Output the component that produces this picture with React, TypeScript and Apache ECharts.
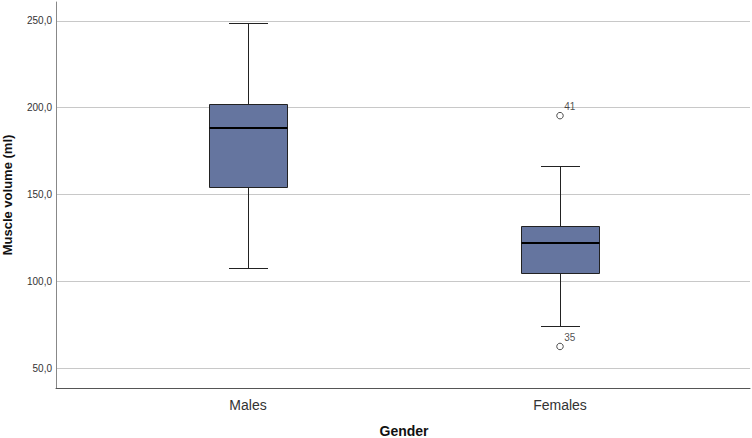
import React, { useEffect, useRef } from "react";
import * as echarts from "echarts";

const categories = ["Males", "Females"];
const whiskerLow = [107.6, 74.1];
const quartile1 = [154.4, 104.9];
const medians = [188.3, 122.0];
const quartile3 = [201.9, 132.2];
const whiskerHigh = [248.5, 166.3];

const outlierCategories = ["Females", "Females"];
const outlierValues = [195.4, 62.6];
const outlierIds = ["41", "35"];

const yTicks = [50, 100, 150, 200, 250];
const yMin = 38.7;
const yMax = 260.8;

const FONT = "'Liberation Sans', Arial, sans-serif";

export default function App() {
  const ref = useRef<HTMLDivElement>(null);

  useEffect(() => {
    if (!ref.current) return;
    const chart = echarts.init(ref.current, null, { renderer: "svg" });

    const boxData = categories.map((c, i) => [
      i,
      whiskerLow[i],
      quartile1[i],
      medians[i],
      quartile3[i],
      whiskerHigh[i],
    ]);

    const outlierData = outlierCategories.map((c, i) => ({
      value: [c, outlierValues[i]],
      name: outlierIds[i],
    }));

    const option: any = {
      animation: false,
      backgroundColor: "#ffffff",
      textStyle: { fontFamily: FONT },
      grid: [
        { left: 56, right: 2, top: 2, bottom: 50, containLabel: false, outerBoundsMode: "none" },
        { left: 92, right: 36, top: 2, bottom: 50, containLabel: false, outerBoundsMode: "none" },
      ],
      xAxis: [
        {
          type: "category",
          gridIndex: 0,
          data: [""],
          axisLine: { show: true, lineStyle: { color: "#555555", width: 1 } },
          axisTick: { show: false },
          axisLabel: { show: false },
          splitLine: { show: false },
        },
        {
          type: "category",
          gridIndex: 1,
          data: categories,
          axisLine: { show: false },
          axisTick: { show: false },
          axisLabel: {
            show: true,
            fontSize: 14,
            color: "#333333",
            margin: 10,
            fontFamily: FONT,
          },
          name: "Gender",
          nameLocation: "middle",
          nameGap: 36,
          nameTextStyle: {
            fontSize: 14,
            fontWeight: "bold",
            color: "#111111",
            fontFamily: FONT,
          },
        },
      ],
      yAxis: [
        {
          type: "value",
          gridIndex: 0,
          min: yMin,
          max: yMax,
          axisLine: { show: true, lineStyle: { color: "#888888", width: 1 } },
          axisTick: { show: false, customValues: yTicks },
          axisLabel: {
            show: true,
            customValues: yTicks,
            fontSize: 10,
            color: "#333333",
            margin: 4,
            fontFamily: FONT,
            formatter: (v: number) => v.toFixed(1).replace(".", ","),
          },
          splitLine: {
            show: true,
            lineStyle: { color: "#c8c8c8", width: 1 },
          },
          name: "Muscle volume (ml)",
          nameLocation: "middle",
          nameGap: 42,
          nameTextStyle: {
            fontSize: 13,
            fontWeight: "bold",
            color: "#111111",
            fontFamily: FONT,
          },
        },
        {
          type: "value",
          gridIndex: 1,
          min: yMin,
          max: yMax,
          show: false,
          splitLine: { show: false },
        },
      ],
      series: [
        {
          type: "custom",
          xAxisIndex: 1,
          yAxisIndex: 1,
          data: boxData,
          encode: { x: 0, y: [1, 2, 3, 4, 5] },
          renderItem: (params: any, api: any) => {
            const i = api.value(0);
            const lo = api.coord([i, api.value(1)]);
            const q1p = api.coord([i, api.value(2)]);
            const med = api.coord([i, api.value(3)]);
            const q3p = api.coord([i, api.value(4)]);
            const hi = api.coord([i, api.value(5)]);
            const band = api.size([1, 0])[0];
            const bw = band * 0.25;
            const cw = band * 0.125;
            const x = Math.round(lo[0]) + 0.5;
            const lineStyle = { stroke: "#222222", lineWidth: 1 };
            const yr = (y: number) => Math.round(y) + 0.5;
            return {
              type: "group",
              children: [
                {
                  type: "line",
                  shape: { x1: x, y1: yr(hi[1]), x2: x, y2: yr(q3p[1]) },
                  style: lineStyle,
                },
                {
                  type: "line",
                  shape: { x1: x, y1: yr(q1p[1]), x2: x, y2: yr(lo[1]) },
                  style: lineStyle,
                },
                {
                  type: "line",
                  shape: {
                    x1: x - cw / 2,
                    y1: yr(hi[1]),
                    x2: x + cw / 2,
                    y2: yr(hi[1]),
                  },
                  style: lineStyle,
                },
                {
                  type: "line",
                  shape: {
                    x1: x - cw / 2,
                    y1: yr(lo[1]),
                    x2: x + cw / 2,
                    y2: yr(lo[1]),
                  },
                  style: lineStyle,
                },
                {
                  type: "rect",
                  shape: {
                    x: x - bw / 2,
                    y: yr(q3p[1]),
                    width: bw,
                    height: yr(q1p[1]) - yr(q3p[1]),
                  },
                  style: { fill: "#65759f", stroke: "#222222", lineWidth: 1 },
                },
                {
                  type: "line",
                  shape: {
                    x1: x - bw / 2,
                    y1: Math.round(med[1]),
                    x2: x + bw / 2,
                    y2: Math.round(med[1]),
                  },
                  style: { stroke: "#000000", lineWidth: 2 },
                },
              ],
            };
          },
        },
        {
          type: "scatter",
          xAxisIndex: 1,
          yAxisIndex: 1,
          data: outlierData,
          symbol: "circle",
          symbolSize: 6.5,
          itemStyle: { color: "#ffffff", borderColor: "#222222", borderWidth: 1 },
          label: {
            show: true,
            formatter: (p: any) => p.name,
            position: [8, -10],
            fontSize: 10,
            color: "#222222",
            fontFamily: FONT,
          },
        },
      ],
    };

    chart.setOption(option);
    return () => chart.dispose();
  }, []);

  return (
    <div
      ref={ref}
      style={{ position: "fixed", left: 0, top: 0, width: 752, height: 438 }}
    />
  );
}
